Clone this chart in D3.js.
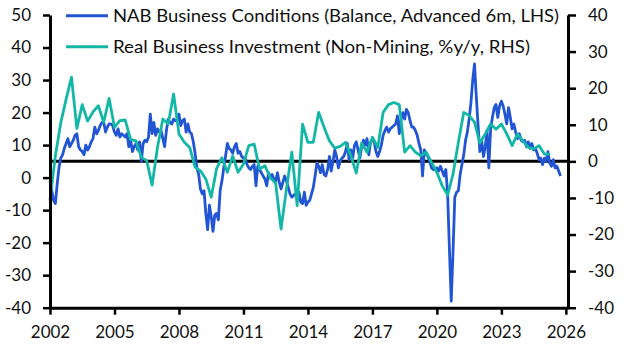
<!DOCTYPE html>
<html>
<head>
<meta charset="utf-8">
<script src="https://d3js.org/d3.v7.min.js"></script>
<style>
  body { margin: 0; background: #fff; }
  svg text { font-family: Lato, sans-serif; font-size: 17px; fill: #111; }
</style>
</head>
<body>
<div id="chart"></div>
<script>
// NAB business conditions, balance, advanced 6m - monthly from Jan 2002 (LHS)
const nabStart = 2002;
const nab = [
  -1, -4, -7, -8, -2, 3, 6, 7, 9, 10.5, 12, 9.5,
  10.5, 11.5, 13, 13.5, 9.5, 8.5, 8, 7, 10, 8.5, 9.5, 11,
  12, 15.5, 13.5, 14.5, 16, 17, 17, 14, 15.5, 16.5, 16.5, 16,
  14, 13, 15, 12.5, 13.5, 13, 12.5, 13.5, 9.5, 11.5, 8, 9.5,
  10.5, 8.5, 11, 5, 10.5, 11.5, 11, 12.5, 19.5, 13.5, 17, 13,
  15, 14, 14.5, 12, 9.5, 14.5, 18, 17, 16.5, 18, 17.5, 17.5,
  19.5, 16, 17.5, 18, 14, 16.5, 14, 13.5, 11, 7.5, 3, 1,
  -3.5, -5, -4, -11, -16, -8.5, -12, -16.5, -11.5, -11, -13, -4,
  -1, 3, 6.5, 10.5, 9, 8.5, 7.5, 9.5, 10.5, 7.5, 8, 6.5,
  6, 6, 4, 3, 2.5, 3.5, 4, -2.5, 3.5, 2.5, 1.5, 0.5,
  -0.5, -2.5, 1.5, 0, 1, -0.5, -1, 1.5, -1.5, -3.5, -1.5, 0.5,
  -1, -3, -5, -6, -5.5, -5, -6, -4.5, -7.5, -8, -4.5, -8.5,
  -7.5, -7, -5, -3, 0.5, 4.5, 3.5, 1.5, 4, 1, 0.5, 2.5,
  6.5, 2, 5, 8.5, 6.5, 3, 5, 6, 6.5, 8, 10.5, 5.5,
  8.5, 6, 10, 11, 8.5, 6, 9.5, 11.5, 10, 12, 7, 11,
  11.5, 11, 8, 6.5, 8, 10, 13, 14.5, 15.5, 14, 15, 15.5,
  16, 16.5, 19, 13.5, 18, 20, 18, 21, 20, 17.5, 15.5, 15.5,
  14.5, 13, 10.5, 8.5, 0.5, 8.5, 7.5, 6.5, 5, 3, 2.5, 2.5,
  3, 2, 3.5, 2, 0.5, 2.5, -5, -22, -38, -23, -6, -4.5,
  -4, 1, 4, 7, 11.5, 14, 18, 23, 30, 35, 25, 16,
  8, 11.5, 6.5, 9.5, 14.5, 3, 15, 18.5, 21.5, 22.5, 18.5, 22,
  23.5, 22, 19.5, 16.5, 21.5, 18.5, 15, 16.5, 14, 12, 13.5, 11.5,
  11, 11.5, 9.5, 11, 9, 10.5, 8.5, 9, 7.5, 5.5, 6, 4,
  6, 5, 8, 4.5, 3.5, 5.5, 3, 3.5, 2, 0.5
];

// Real business investment, non-mining, %y/y - quarterly from 2002 Q1 (RHS)
const invStart = 2002;
const investment = [
  -10.5, 1.5, 10.5, 17,
  23, 9, 15.5, 11,
  13.5, 15.2, 10.7, 17.2,
  9.3, 11.1, 11.3, 6,
  5.6, 1.1, 0.2, -6.5,
  3.8, 11.6, 10.2, 18.4,
  7.5, 5.2, 3.8, -1.6,
  -2.6, -4.8, -9.8, -2,
  1, -3, 1.5, -3,
  -0.7, 4.3, 4.7, -2.1,
  -1.2, -4.5, -6, -18.5,
  -7.6, 2.5, -12.1, 10.2,
  5.2, 5.2, 13.4, 9.3,
  5.6, 3.6, 4.1, 5.2,
  1.5, -3.2, 5, 2.5,
  6.6, 3.8, 13.4, 15.5,
  16.1, 15.5, 2.5, 4.3,
  2.5, 1.5, 2.5, -0.3,
  -3, -6.7, -9.2, -3.5,
  5.2, 13.4, 12.5, 10.7,
  5, 7.5, 10.2, 8.8,
  10.2, 7.5, 4.3, 7.5,
  5.6, 3.8, 3.4, 4.3,
  2, 2
];

const yearTicks = [2002, 2005, 2008, 2011, 2014, 2017, 2020, 2023, 2026];
const leftTicks = [50, 40, 30, 20, 10, 0, -10, -20, -30, -40];
const rightTicks = [40, 30, 20, 10, 0, -10, -20, -30, -40];
const seriesNames = [
  "NAB Business Conditions (Balance, Advanced 6m, LHS)",
  "Real Business Investment (Non-Mining, %y/y, RHS)"
];
const seriesColors = ["#2155d3", "#13b7a5"];
const legendWidths = [446, 417];

const W = 627, H = 353;
const plotL = 50, plotR = 568, plotT = 15, plotB = 307.7;

const svg = d3.select("#chart").append("svg")
  .attr("width", W).attr("height", H);

const x = d3.scaleLinear().domain([2002, 2026.1]).range([plotL, plotR]);
const yL = d3.scaleLinear().domain([-40, 50]).range([plotB, plotT]);
const yR = d3.scaleLinear().domain([-40, 40]).range([plotB, plotT]);

// zero line (RHS zero)
svg.append("line")
  .attr("x1", plotL).attr("x2", plotR)
  .attr("y1", yR(0)).attr("y2", yR(0))
  .attr("stroke", "#000").attr("stroke-width", 3);

// series
const nabLine = d3.line()
  .x((d, i) => x(nabStart + i / 12))
  .y(d => yL(d));
const invLine = d3.line()
  .x((d, i) => x(invStart + i / 4))
  .y(d => yR(d));

svg.append("path").datum(nab)
  .attr("d", nabLine)
  .attr("fill", "none").attr("stroke", seriesColors[0])
  .attr("stroke-width", 2.8).attr("stroke-linejoin", "round");

svg.append("path").datum(investment)
  .attr("d", invLine)
  .attr("fill", "none").attr("stroke", seriesColors[1])
  .attr("stroke-width", 2.8).attr("stroke-linejoin", "round");

// axes
const fmt = d => String(d);
const gL = svg.append("g").attr("transform", `translate(${plotL},0)`)
  .call(d3.axisLeft(yL).tickValues(leftTicks).tickFormat(fmt)
    .tickSize(7).tickSizeOuter(0).tickPadding(12));
const gR = svg.append("g").attr("transform", `translate(${plotR},0)`)
  .call(d3.axisRight(yR).tickValues(rightTicks).tickFormat(fmt)
    .tickSize(8).tickSizeOuter(0).tickPadding(12));
const gB = svg.append("g").attr("transform", `translate(0,${plotB})`)
  .call(d3.axisBottom(x).tickValues(yearTicks).tickFormat(fmt)
    .tickSize(7).tickSizeOuter(0).tickPadding(11));

[gL, gR, gB].forEach(g => {
  g.select(".domain").attr("stroke", "#000").attr("stroke-width", 3);
  g.selectAll(".tick line").attr("stroke", "#000").attr("stroke-width", 2.5);
  g.selectAll("text").attr("font-family", "Lato, sans-serif")
    .attr("font-size", 17).attr("fill", "#111");
});

// legend
const legend = svg.append("g");
seriesNames.forEach((name, i) => {
  const ly = 15.7 + i * 31;
  legend.append("line")
    .attr("x1", 66).attr("x2", 108).attr("y1", ly).attr("y2", ly)
    .attr("stroke", seriesColors[i]).attr("stroke-width", 3);
  legend.append("text")
    .attr("x", 113).attr("y", ly).attr("dy", "0.35em")
    .attr("textLength", legendWidths[i])
    .attr("lengthAdjust", "spacingAndGlyphs")
    .text(name);
});
</script>
</body>
</html>
